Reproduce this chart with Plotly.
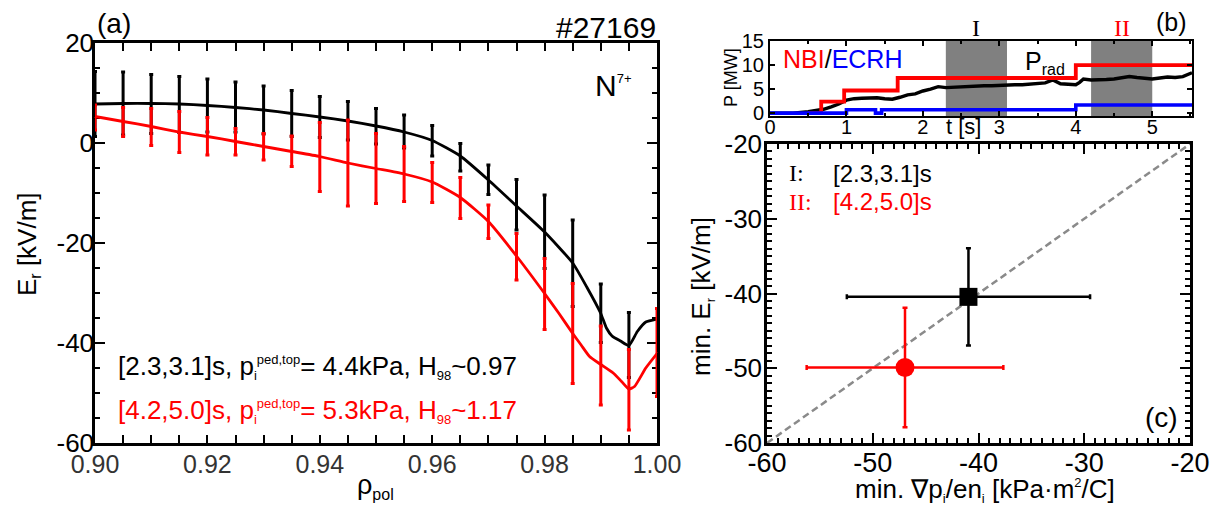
import plotly.graph_objects as go

# ---------------- data: panel (a) ----------------
rho_pts_black = [0.900, 0.905, 0.910, 0.915, 0.920, 0.925, 0.930, 0.935, 0.940, 0.945,
                 0.950, 0.955, 0.960, 0.965, 0.970, 0.975, 0.980, 0.985, 0.990, 0.995]
er_black = [7.8, 7.9, 7.8, 7.7, 7.5, 7.2, 6.6, 5.9, 5.2, 4.45,
            3.35, 2.3, 0.45, -2.85, -7.35, -12.35, -17.75, -24.05, -34.05, -40.4]
err_black = [6.5, 6.3, 5.9, 5.6, 5.3, 5.0, 4.8, 4.6, 4.1, 3.85,
             3.55, 3.3, 3.05, 2.75, 2.95, 5.05, 7.35, 8.65, 5.85, 6.5]

rho_pts_red = [0.900, 0.905, 0.910, 0.915, 0.920, 0.925, 0.930, 0.935, 0.940, 0.945,
               0.950, 0.955, 0.960, 0.965, 0.970, 0.975, 0.980, 0.985, 0.990, 0.995, 1.000]
er_red = [5.1, 4.2, 3.2, 2.2, 1.35, 0.25, -0.75, -1.65, -2.8, -4.0,
          -5.1, -6.2, -7.9, -11.0, -15.75, -22.75, -30.2, -38.1, -44.5, -49.35, -41.9]
err_red = [2.5, 2.9, 3.7, 4.1, 3.75, 2.65, 2.65, 3.05, 6.9, 8.6,
           7.0, 5.5, 4.0, 4.1, 3.35, 4.65, 7.1, 10.0, 7.9, 8.05, 8.8]

rho_line_black = [0.900, 0.905, 0.910, 0.915, 0.920, 0.925, 0.930, 0.935, 0.940, 0.945,
                  0.950, 0.955, 0.960, 0.965, 0.970, 0.975, 0.980, 0.985, 0.9875, 0.990,
                  0.991, 0.992, 0.9935, 0.995, 0.9965, 0.998, 1.000]
er_line_black = [7.8, 7.9, 7.9, 7.8, 7.5, 7.1, 6.6, 5.9, 5.2, 4.4,
                 3.4, 2.2, 0.5, -2.6, -7.4, -12.6, -17.8, -24.0, -28.8, -34.1,
                 -37.0, -38.6, -39.6, -40.5, -37.7, -35.8, -35.2]

rho_line_red = [0.900, 0.905, 0.910, 0.915, 0.920, 0.925, 0.930, 0.935, 0.940, 0.945,
                0.950, 0.955, 0.960, 0.965, 0.970, 0.975, 0.980, 0.9825, 0.985, 0.9865,
                0.988, 0.990, 0.9922, 0.9937, 0.995, 0.996, 0.998, 1.000]
er_line_red = [5.3, 4.3, 3.3, 2.2, 1.3, 0.3, -0.7, -1.7, -2.7, -4.0,
               -5.1, -6.2, -7.8, -10.9, -15.7, -22.6, -30.1, -34.0, -38.1, -40.4,
               -42.7, -44.3, -46.0, -47.7, -49.2, -48.7, -45.0, -42.1]

xa_tickvals = [0.90, 0.92, 0.94, 0.96, 0.98, 1.00]
xa_ticktext = ["0.90", "0.92", "0.94", "0.96", "0.98", "1.00"]
ya_tickvals = [20, 0, -20, -40, -60]
ya_ticktext = ["20", "0", "-20", "-40", "-60"]

# ---------------- data: panel (b) ----------------
t_nbi = [0.5, 0.67, 0.97, 1.67, 4.0, 5.52]
p_nbi = [0.0, 2.4, 4.7, 7.3, 10.0, 10.0]
t_ecrh = [0.0, 1.0, 1.38, 1.46, 4.0, 5.52]
p_ecrh = [0.0, 0.7, 0.0, 0.7, 1.7, 1.7]
t_prad = [0.0, 0.3, 0.5, 0.6, 0.7, 0.8, 0.9, 1.0, 1.1, 1.2, 1.3, 1.4, 1.5, 1.6, 1.7,
          1.8, 1.9, 2.0, 2.1, 2.2, 2.3, 2.4, 2.5, 2.6, 2.7, 2.8, 2.9, 3.0, 3.1, 3.2,
          3.3, 3.4, 3.5, 3.6, 3.7, 3.75, 3.8, 3.9, 4.0, 4.05, 4.1, 4.2, 4.3, 4.4, 4.5,
          4.6, 4.7, 4.8, 4.9, 5.0, 5.1, 5.2, 5.3, 5.4, 5.52]
p_prad = [0.0, 0.0, 0.3, 0.6, 0.8, 1.3, 1.9, 2.7, 3.0, 3.1, 3.2, 3.2, 3.0, 2.9, 3.3,
          3.8, 4.0, 4.6, 5.0, 5.5, 5.3, 5.4, 5.5, 5.5, 5.6, 5.7, 5.7, 5.8, 5.8, 5.9,
          5.9, 6.0, 6.2, 6.3, 6.9, 6.4, 6.1, 6.0, 5.9, 6.4, 7.1, 6.9, 6.9, 7.0, 7.1,
          7.3, 7.6, 7.4, 7.2, 7.1, 7.3, 7.5, 7.4, 7.6, 8.4]
band_I = [2.3, 3.1]
band_II = [4.2, 5.0]
xb_tickvals = [0, 1, 2, 3, 4, 5]
xb_ticktext = ["0", "1", "2", "3", "4", "5"]
yb_tickvals = [0, 5, 10, 15]
yb_ticktext = ["0", "5", "10", "15"]

# ---------------- data: panel (c) ----------------
grad_I, grad_I_err = [-40.95], [11.5]
er_I, er_I_err = [-40.45], [6.5]
grad_II, grad_II_err = [-46.95], [9.3]
er_II, er_II_err = [-49.9], [8.0]
diag = [-60, -20]
xc_tickvals = [-60, -50, -40, -30, -20]
xc_ticktext = ["-60", "-50", "-40", "-30", "-20"]
yc_tickvals = [-20, -30, -40, -50, -60]
yc_ticktext = ["-20", "-30", "-40", "-50", "-60"]

# ---------------- layout helpers ----------------
OFF = 8                      # page body margin of the browser
W, H = 1218 - OFF, 506 - OFF
SANS = "Liberation Sans, Arial, sans-serif"
SERIF = "Liberation Serif, Times New Roman, serif"


def fx(p):
    return (p - OFF) / W


def fy(p):
    return 1 - (p - OFF) / H


fig = go.Figure()

# panel (a)
fig.add_trace(go.Scatter(x=rho_line_black, y=er_line_black, mode="lines",
                         line=dict(color="black", width=2.8, shape="spline", smoothing=0.5),
                         xaxis="x", yaxis="y", cliponaxis=False))
fig.add_trace(go.Scatter(x=rho_pts_black, y=er_black, mode="markers",
                         marker=dict(size=1, color="black"),
                         error_y=dict(type="data", array=err_black, color="black", thickness=3, width=2),
                         xaxis="x", yaxis="y", cliponaxis=False))
fig.add_trace(go.Scatter(x=rho_line_red, y=er_line_red, mode="lines",
                         line=dict(color="#ff0000", width=2.8, shape="spline", smoothing=0.5),
                         xaxis="x", yaxis="y", cliponaxis=False))
fig.add_trace(go.Scatter(x=rho_pts_red, y=er_red, mode="markers",
                         marker=dict(size=1, color="#ff0000"),
                         error_y=dict(type="data", array=err_red, color="#ff0000", thickness=3, width=2),
                         xaxis="x", yaxis="y", cliponaxis=False))

# panel (b)
fig.add_trace(go.Scatter(x=t_prad, y=p_prad, mode="lines",
                         line=dict(color="black", width=3.4),
                         xaxis="x2", yaxis="y2"))
fig.add_trace(go.Scatter(x=t_nbi, y=p_nbi, mode="lines",
                         line=dict(color="#ff0000", width=3.8, shape="hv"),
                         xaxis="x2", yaxis="y2"))
fig.add_trace(go.Scatter(x=t_ecrh, y=p_ecrh, mode="lines",
                         line=dict(color="#0000ff", width=3.6, shape="hv"),
                         xaxis="x2", yaxis="y2"))

# panel (c)
fig.add_trace(go.Scatter(x=diag, y=diag, mode="lines",
                         line=dict(color="#8a8a8a", width=2.5, dash="7px,4px"),
                         xaxis="x3", yaxis="y3"))
fig.add_trace(go.Scatter(x=grad_I, y=er_I, mode="markers",
                         marker=dict(symbol="square", size=18, color="black"),
                         error_x=dict(type="data", array=grad_I_err, color="black", thickness=2.5, width=2.5),
                         error_y=dict(type="data", array=er_I_err, color="black", thickness=2.5, width=2.5),
                         xaxis="x3", yaxis="y3"))
fig.add_trace(go.Scatter(x=grad_II, y=er_II, mode="markers",
                         marker=dict(symbol="circle", size=19, color="#ff0000"),
                         error_x=dict(type="data", array=grad_II_err, color="#ff0000", thickness=2.5, width=2.5),
                         error_y=dict(type="data", array=er_II_err, color="#ff0000", thickness=2.5, width=2.5),
                         xaxis="x3", yaxis="y3"))

axis_common = dict(showline=True, linecolor="black", linewidth=2.5, mirror="ticks",
                   ticks="inside", tickcolor="black", showgrid=False, zeroline=False,
                   tickmode="array", automargin=False)


def minor(t0, dt, ln, wd=2):
    return dict(ticks="inside", tickmode="linear", tick0=t0, dtick=dt, ticklen=ln,
                tickwidth=wd, tickcolor="black", showgrid=False)


fig.update_layout(
    width=W, height=H, autosize=False,
    margin=dict(l=0, r=0, t=0, b=0, pad=0),
    paper_bgcolor="white", plot_bgcolor="white",
    showlegend=False,
    font=dict(family=SANS, color="black"),
    xaxis=dict(axis_common, domain=[fx(95), fx(657)], range=[0.9, 1.0], anchor="y",
               tickvals=xa_tickvals, ticktext=xa_ticktext, ticklen=8, tickwidth=2,
               tickfont=dict(size=25, color="#333333", family=SANS), ticklabelstandoff=-3,
               layer="below traces", minor=minor(0.9, 0.005, 8)),
    yaxis=dict(axis_common, domain=[fy(443), fy(43)], range=[-60, 20], anchor="x",
               tickvals=ya_tickvals, ticktext=ya_ticktext, ticklen=10, tickwidth=2,
               tickfont=dict(size=26, color="black", family=SANS), ticklabelstandoff=-7,
               layer="below traces", minor=minor(0, 5, 5)),
    xaxis2=dict(axis_common, domain=[fx(770), fx(1192)], range=[0, 5.52], anchor="y2",
                tickvals=xb_tickvals, ticktext=xb_ticktext, ticklen=5, tickwidth=1.5, linewidth=2,
                tickfont=dict(size=20, color="black", family=SANS), ticklabelstandoff=-8,
                minor=minor(0, 0.5, 3, 1.5)),
    yaxis2=dict(axis_common, domain=[fy(116), fy(41)], range=[-0.6, 15.0], anchor="x2",
                tickvals=yb_tickvals, ticktext=yb_ticktext, ticklen=5, tickwidth=1.5, linewidth=2,
                tickfont=dict(size=20, color="black", family=SANS), ticklabelstandoff=0),
    xaxis3=dict(axis_common, domain=[fx(767), fx(1190)], range=[-60, -20], anchor="y3",
                tickvals=xc_tickvals, ticktext=xc_ticktext, ticklen=10, tickwidth=2,
                tickfont=dict(size=27, color="black", family=SANS), ticklabelstandoff=-6,
                minor=minor(-60, 1, 5, 1.5)),
    yaxis3=dict(axis_common, domain=[fy(443), fy(144)], range=[-60, -20], anchor="x3",
                tickvals=yc_tickvals, ticktext=yc_ticktext, ticklen=10, tickwidth=2,
                tickfont=dict(size=26, color="black", family=SANS), ticklabelstandoff=-3,
                minor=minor(-60, 1, 5, 1.5)),
)

# grey time windows in panel (b)
for band in (band_I, band_II):
    fig.add_shape(type="rect", xref="x2", yref="y2 domain", x0=band[0], x1=band[1], y0=0, y1=1,
                  fillcolor="#808080", line=dict(width=0), layer="below")


def ann(text, x, y, size, color="black", xanchor="center", yanchor="middle", family=SANS, angle=0):
    fig.add_annotation(text=text, x=fx(x), y=fy(y), xref="paper", yref="paper",
                       showarrow=False, xanchor=xanchor, yanchor=yanchor, textangle=angle,
                       font=dict(size=size, color=color, family=family))


SM = '<span style="font-size:13px">{}</span>'

# panel (a) texts
ann("(a)", 95, 24, 28, xanchor="left")
ann("#27169", 658, 27, 30, xanchor="right")
ann("N<sup>" + SM.format("7+") + "</sup>", 634, 86, 30, xanchor="right")
ann("[2.3,3.1]s, p<sub>" + SM.format("i") + "</sub><sup>" + SM.format("ped,top") +
    "</sup>= 4.4kPa, H<sub>" + SM.format("98") + "</sub>~0.97", 116, 367, 26, xanchor="left")
ann("[4.2,5.0]s, p<sub>" + SM.format("i") + "</sub><sup>" + SM.format("ped,top") +
    "</sup>= 5.3kPa, H<sub>" + SM.format("98") + "</sub>~1.17", 116, 411, 26, color="#ff0000", xanchor="left")
ann("ρ<sub>" + '<span style="font-size:16px">pol</span>' + "</sub>", 376, 486, 27)
ann("E<sub>" + '<span style="font-size:16px">r</span>' + "</sub> [kV/m]", 28, 244, 26, angle=-90)

# panel (b) texts
ann("I", 976, 28, 24, family=SERIF)
ann("II", 1122, 28, 24, color="#ff0000", family=SERIF)
ann("(b)", 1189, 22, 25, xanchor="right")
ann('<span style="color:#ff0000">NBI</span>/<span style="color:#0000ff">ECRH</span>', 781, 59, 25, xanchor="left")
ann("P<sub>" + '<span style="font-size:16px">rad</span>' + "</sub>", 1023, 62, 25, xanchor="left")
ann("t [s]", 963, 127, 22)
ann("P [MW]", 731, 78, 18, angle=-90)

# panel (c) texts
ann("I:", 787, 173, 24, family=SERIF, xanchor="left")
ann("[2.3,3.1]s", 831, 173, 24, xanchor="left")
ann("II:", 787, 202, 24, color="#ff0000", family=SERIF, xanchor="left")
ann("[4.2,5.0]s", 831, 202, 24, color="#ff0000", xanchor="left")
ann("(c)", 1180, 417, 28, xanchor="right")
ann("min. ∇p<sub>" + SM.format("i") + "</sub>/en<sub>" + SM.format("i") + "</sub> [kPa·m<sup>" +
    SM.format("2") + "</sup>/C]", 985, 490, 26)
ann("min. E<sub>" + SM.format("r") + "</sub> [kV/m]", 702, 297, 26, angle=-90)

fig.write_html("out.html")
